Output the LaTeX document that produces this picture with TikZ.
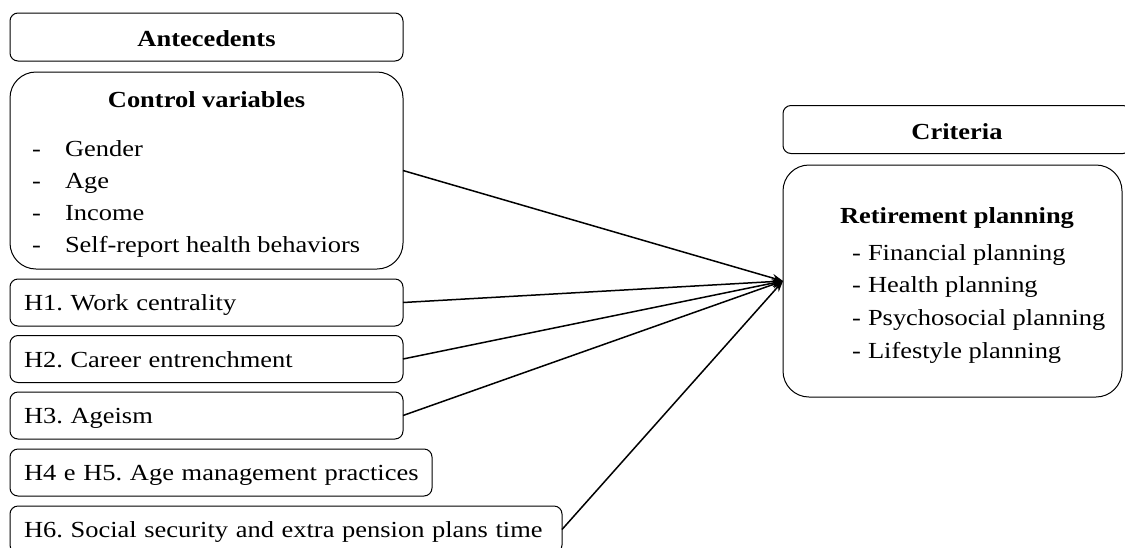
\documentclass[tikz,border=0pt]{standalone}
\usepackage{fontspec}
\setmainfont{Liberation Serif}[FakeStretch=1.15]
\usetikzlibrary{arrows.meta}
\frenchspacing
\begin{document}
\begin{tikzpicture}[x=1pt,y=-1pt,
  every node/.style={inner sep=0pt, outer sep=0pt, font=\fontsize{23}{26}\selectfont},
  smallbox/.style={draw, line width=1pt, rounded corners=8pt, minimum height=47pt, text height=20pt, text depth=4pt, inner xsep=14pt, align=left, anchor=west},
  headbox/.style={draw, line width=1pt, rounded corners=8pt, minimum height=48pt, text height=23pt, text depth=4pt, font=\fontsize{23}{26}\selectfont\bfseries},
  bigbox/.style={draw, line width=1pt, rounded corners=26pt},
  txt/.style={anchor=base west},
  ttl/.style={anchor=base, font=\fontsize{23}{26}\selectfont\bfseries},
  link/.style={line width=1.5pt, -{Stealth[length=11pt,width=8pt]}}
]
\useasboundingbox (0,0) rectangle (1125,547);
\clip (0,0) rectangle (1125,547);
\fill[white] (0,0) rectangle (1125,547);

% left column
\node[headbox, minimum width=393pt] (ant) at (206.5,37) {Antecedents};
\node[bigbox, minimum width=393pt, minimum height=197pt] (ctrl) at (206.5,170.5) {};
\node[ttl] (ctrlT) at (206.5,107) {Control variables};
\node[txt] (cd1) at (32,156.7) {-}; \node[txt] (c1) at (65,156.7) {Gender};
\node[txt] (cd2) at (32,188.6) {-}; \node[txt] (c2) at (65,188.6) {Age};
\node[txt] (cd3) at (32,220.5) {-}; \node[txt] (c3) at (65,220.5) {Income};
\node[txt] (cd4) at (32,252.4) {-}; \node[txt] (c4) at (65,252.4) {Self-report health behaviors};

\node[smallbox, text width=365pt] (h1) at (10,302.5) {\mbox{H1. Work centrality}};
\node[smallbox, text width=365pt] (h2) at (10,359) {\mbox{H2. Career entrenchment}};
\node[smallbox, text width=365pt] (h3) at (10,415.5) {\mbox{H3. Ageism}};
\node[smallbox, text width=394pt] (h4) at (10,472.5) {\mbox{H4 e H5. Age management practices}};
\node[smallbox, text width=524pt] (h6) at (10,529.5) {\mbox{H6. Social security and extra pension plans time}};

% right column
\node[headbox, minimum width=348pt] (crit) at (957,129.5) {Criteria};
\node[bigbox, minimum width=339pt, minimum height=232pt] (ret) at (952.5,281) {};
\node[ttl] (retT) at (957,223) {Retirement planning};
\node[txt] (rd1) at (852,260) {-}; \node[txt] (r1) at (868,260) {Financial planning};
\node[txt] (rd2) at (852,292.7) {-}; \node[txt] (r2) at (868,292.7) {Health planning};
\node[txt] (rd3) at (852,325.3) {-}; \node[txt] (r3) at (868,325.3) {Psychosocial planning};
\node[txt] (rd4) at (852,358) {-}; \node[txt] (r4) at (868,358) {Lifestyle planning};

% connectors
\draw[link] (ctrl.east) -- (ret.west);
\draw[link] (h1.east) -- (ret.west);
\draw[link] (h2.east) -- (ret.west);
\draw[link] (h3.east) -- (ret.west);
\draw[link] (h6.east) -- (ret.west);
\end{tikzpicture}
\end{document}
